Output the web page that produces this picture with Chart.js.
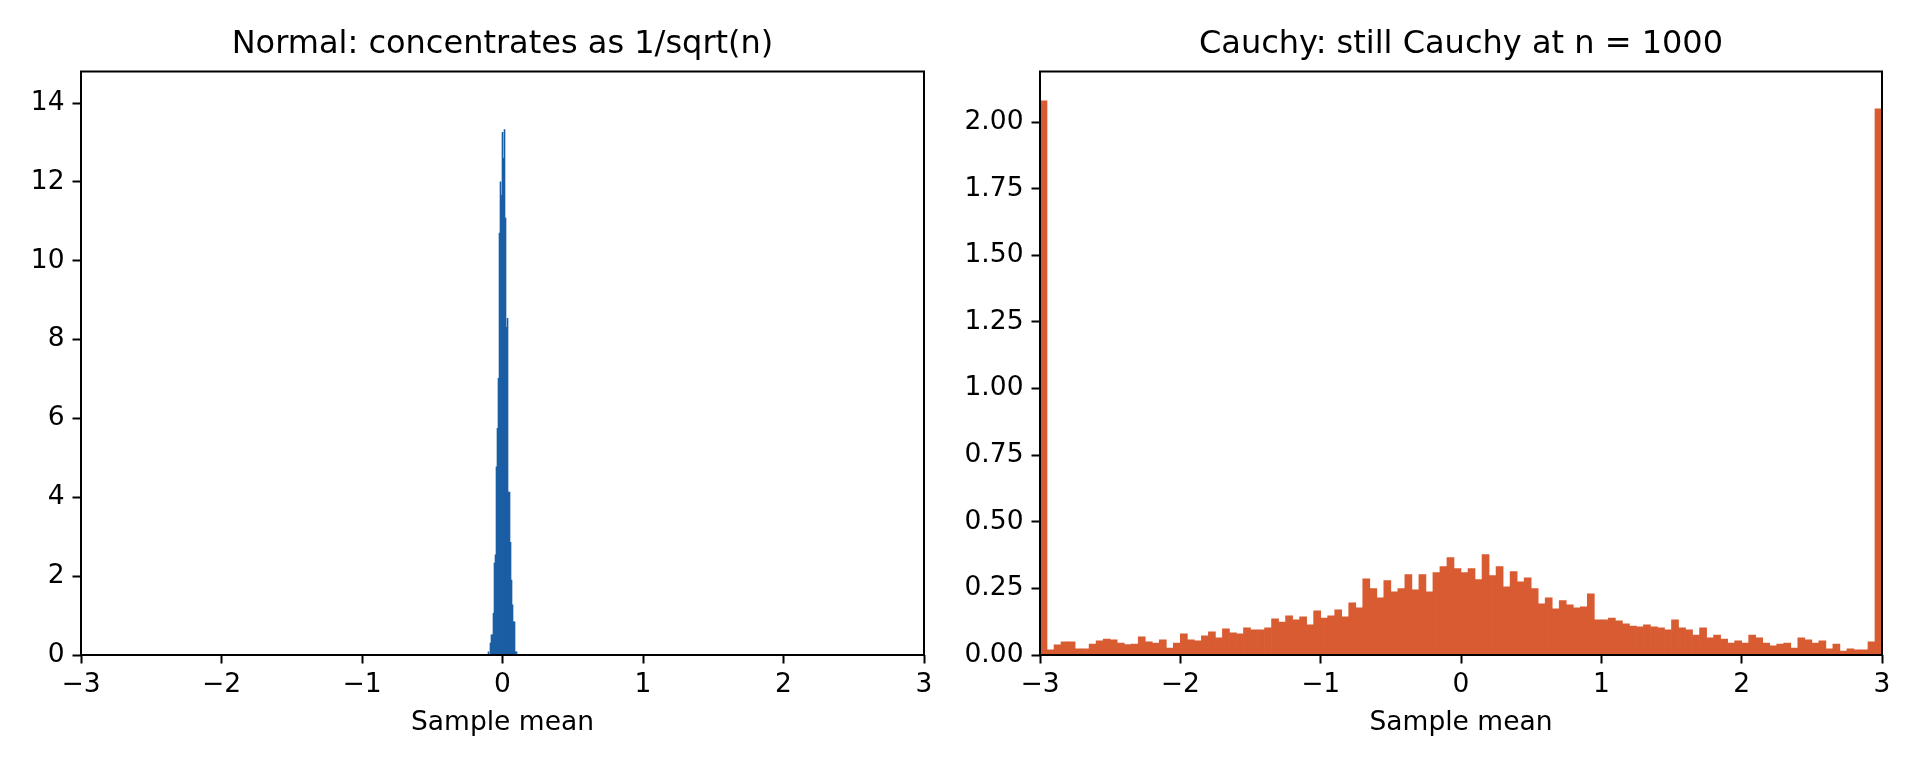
<!DOCTYPE html>
<html>
<head>
<meta charset="utf-8">
<title>Sample means: Normal vs Cauchy</title>
<script src="https://cdn.jsdelivr.net/npm/chart.js@4.4.1/dist/chart.umd.min.js"></script>
<style>
  html, body { margin: 0; padding: 0; background: #fff; }
  #wrap { position: relative; width: 1920px; height: 768px; overflow: hidden; }
  canvas { position: absolute; top: 0; }
</style>
</head>
<body>
<div id="wrap">
  <canvas id="normalChart" width="960" height="768" style="left:0"></canvas>
  <canvas id="cauchyChart" width="960" height="768" style="left:960px"></canvas>
</div>
<script>
// Données
const xTicks = [-3, -2, -1, 0, 1, 2, 3];

// Normal : histogramme très étroit autour de 0 (densité)
const normalBinStart = -0.1032;
const normalBinWidth = 0.00712;
const normalDensity = [
  0.08, 0.00, 0.30, 0.51, 0.51, 1.06, 2.33, 2.54, 4.77, 5.75,
  7.02, 10.70, 12.00, 11.66, 13.26, 12.60, 13.33, 11.08, 8.31, 8.54,
  4.13, 4.13, 2.86, 1.90, 1.27, 0.84, 0.84, 0.08, 0.08
];
const normalYTicks = [0, 2, 4, 6, 8, 10, 12, 14];
const normalYMax = 14.8;

// Cauchy : 120 classes de largeur 0.05 sur [-3, 3], valeurs extrêmes regroupées aux bords
const cauchyBinStart = -3;
const cauchyBinWidth = 0.05;
const cauchyDensity = [
  2.08, 0.019, 0.038, 0.049, 0.049, 0.023, 0.023, 0.041, 0.053, 0.060,
  0.057, 0.045, 0.039, 0.041, 0.068, 0.049, 0.045, 0.057, 0.026, 0.045,
  0.079, 0.057, 0.053, 0.072, 0.087, 0.064, 0.098, 0.083, 0.079, 0.102,
  0.094, 0.094, 0.102, 0.136, 0.124, 0.147, 0.132, 0.143, 0.113, 0.166,
  0.139, 0.147, 0.170, 0.143, 0.196, 0.177, 0.286, 0.249, 0.215, 0.279,
  0.237, 0.249, 0.302, 0.245, 0.302, 0.237, 0.309, 0.332, 0.366, 0.324,
  0.309, 0.324, 0.283, 0.377, 0.298, 0.332, 0.256, 0.313, 0.275, 0.290,
  0.249, 0.192, 0.215, 0.173, 0.204, 0.188, 0.177, 0.181, 0.230, 0.132,
  0.132, 0.139, 0.128, 0.117, 0.109, 0.106, 0.113, 0.106, 0.102, 0.094,
  0.132, 0.102, 0.094, 0.075, 0.102, 0.064, 0.075, 0.060, 0.045, 0.053,
  0.045, 0.075, 0.064, 0.045, 0.034, 0.041, 0.045, 0.026, 0.064, 0.057,
  0.045, 0.053, 0.023, 0.041, 0.015, 0.023, 0.019, 0.019, 0.049, 2.05
];
const cauchyYTicks = [0, 0.25, 0.5, 0.75, 1, 1.25, 1.5, 1.75, 2];
const cauchyYMax = 2.19;

const FONT = "'DejaVu Sans', sans-serif";
const tickFont = { family: FONT, size: 26.5 };
const titleFont = { family: FONT, size: 32, weight: 'normal' };

// Centres des classes -> points {x, y}
function toPoints(start, width, values) {
    return values.map((v, i) => ({ x: start + width * (i + 0.5), y: v }));
}

function minusLabel(v) {
    return v < 0 ? '\u2212' + Math.abs(v) : String(v);
}

// Cadre complet autour de la zone de tracé (comme les "spines" de matplotlib)
const framePlugin = {
    id: 'frame',
    afterDraw(chart) {
        const { ctx, chartArea: a } = chart;
        ctx.save();
        ctx.strokeStyle = '#000';
        ctx.lineWidth = 2;
        ctx.strokeRect(a.left, a.top, a.right - a.left, a.bottom - a.top);
        ctx.restore();
    }
};

function makeHistogram(canvasId, cfg) {
    const tickGrid = {
        drawOnChartArea: false,
        drawTicks: true,
        tickLength: 8.5,
        tickWidth: 2,
        tickColor: '#000',
        offset: false
    };
    return new Chart(document.getElementById(canvasId), {
        type: 'bar',
        data: {
            datasets: [{
                data: cfg.points,
                backgroundColor: cfg.color,
                borderWidth: 0,
                barPercentage: 1,
                categoryPercentage: 1,
                grouped: false
            }]
        },
        options: {
            responsive: false,
            animation: false,
            devicePixelRatio: 1,
            layout: { padding: { left: 0, right: cfg.padRight, top: 0, bottom: 0 } },
            plugins: {
                legend: { display: false },
                tooltip: { enabled: false },
                title: {
                    display: true,
                    fullSize: false,
                    text: cfg.title,
                    color: '#000',
                    font: titleFont,
                    padding: { top: 25.7, bottom: 7.4 }
                }
            },
            scales: {
                x: {
                    type: 'linear',
                    min: -3,
                    max: 3,
                    offset: false,
                    afterBuildTicks: s => { s.ticks = xTicks.map(v => ({ value: v })); },
                    afterFit: s => { s.height = 113; },
                    ticks: {
                        color: '#000',
                        font: tickFont,
                        padding: 6,
                        maxRotation: 0,
                        autoSkip: false,
                        callback: v => minusLabel(v)
                    },
                    grid: tickGrid,
                    border: { display: false },
                    title: {
                        display: true,
                        text: 'Sample mean',
                        color: '#000',
                        font: tickFont,
                        padding: { top: 0, bottom: 29.3 }
                    }
                },
                y: {
                    min: 0,
                    max: cfg.yMax,
                    afterBuildTicks: s => { s.ticks = cfg.yTicks.map(v => ({ value: v })); },
                    afterFit: s => { s.width = cfg.yWidth; },
                    ticks: {
                        color: '#000',
                        font: tickFont,
                        padding: 8,
                        callback: cfg.yFormat
                    },
                    grid: tickGrid,
                    border: { display: false }
                }
            }
        },
        plugins: [framePlugin]
    });
}

makeHistogram('normalChart', {
    title: 'Normal: concentrates as 1/sqrt(n)',
    points: toPoints(normalBinStart, normalBinWidth, normalDensity),
    color: '#1b5ea5',
    yMax: normalYMax,
    yTicks: normalYTicks,
    yFormat: v => String(v),
    yWidth: 81,
    padRight: 36
});

makeHistogram('cauchyChart', {
    title: 'Cauchy: still Cauchy at n = 1000',
    points: toPoints(cauchyBinStart, cauchyBinWidth, cauchyDensity),
    color: '#d85b31',
    yMax: cauchyYMax,
    yTicks: cauchyYTicks,
    yFormat: v => v.toFixed(2),
    yWidth: 80,
    padRight: 38
});
</script>
</body>
</html>
